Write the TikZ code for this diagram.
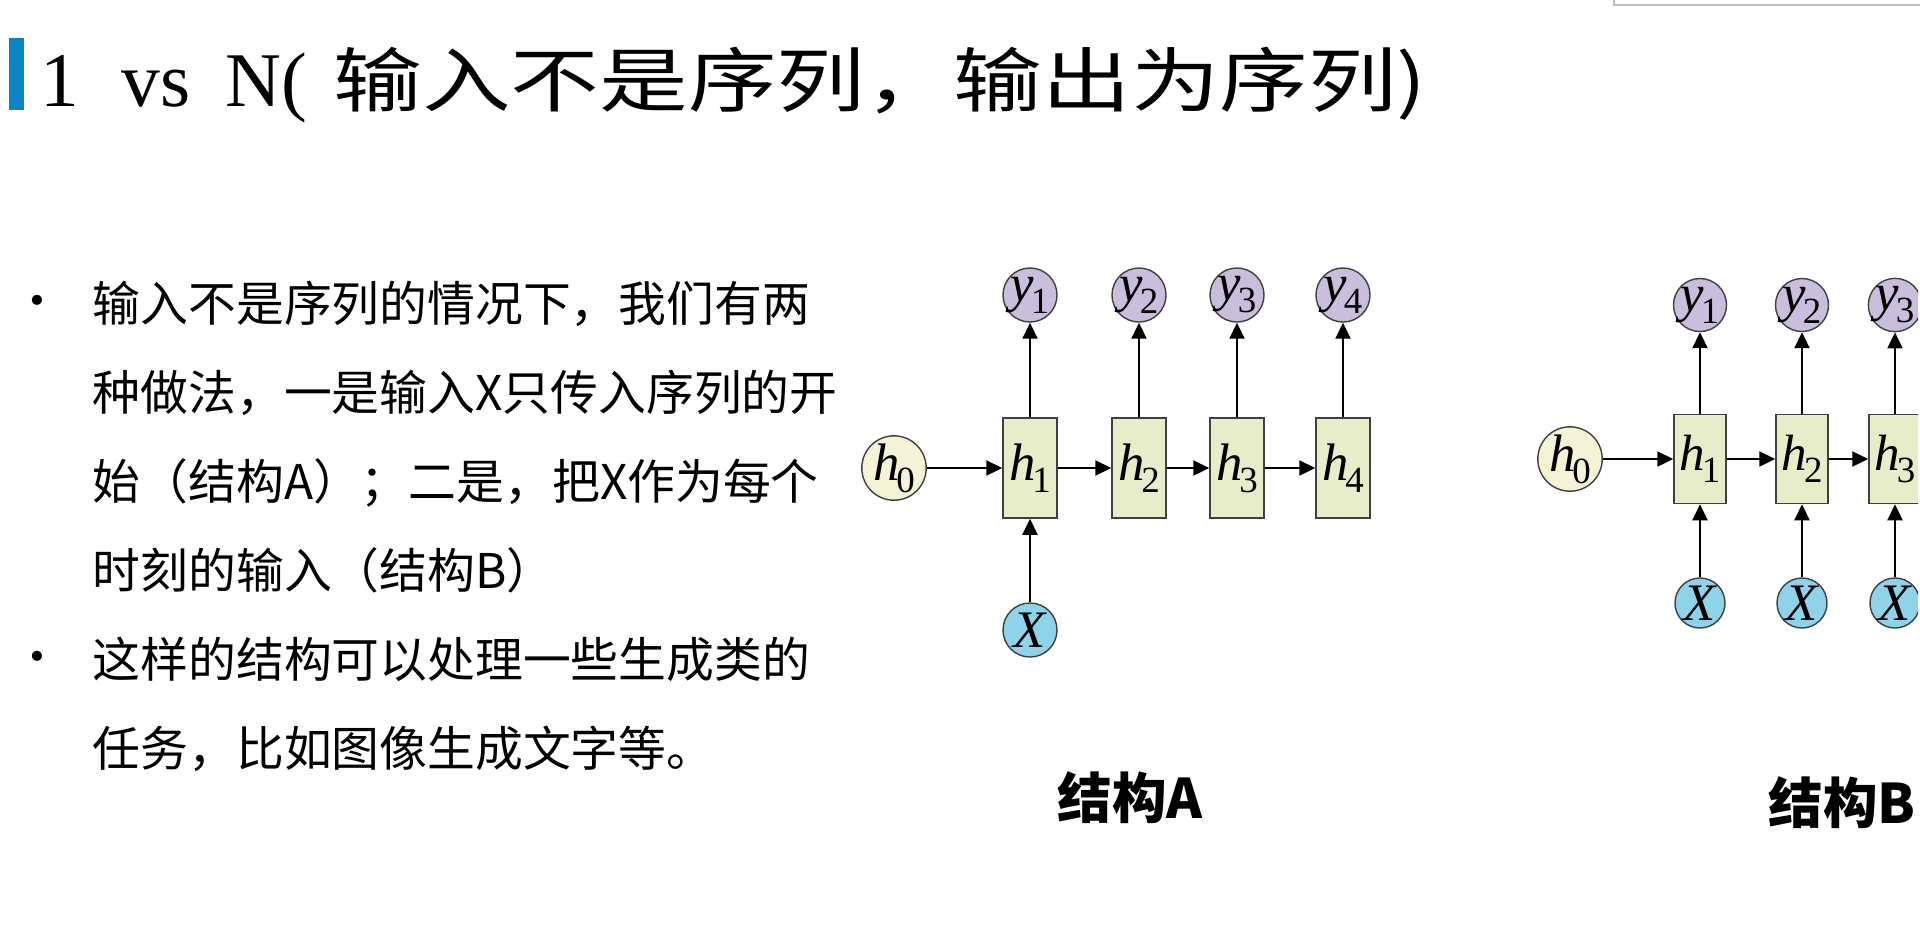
\documentclass[tikz,border=0pt]{standalone}
\usepackage{fontspec}
\setmainfont{Liberation Serif}
\newfontfamily\cjk{Noto Sans CJK SC}
\newfontfamily\cjktitle[FakeStretch=1.26]{Noto Sans CJK SC}
\newfontfamily\latintitle{Liberation Serif}
\usepackage{tikz}
\usetikzlibrary{arrows.meta, positioning}

\definecolor{barblue}{HTML}{0A84C4}
\definecolor{cellfill}{HTML}{E6EDC8}
\definecolor{outfill}{HTML}{C9BFDD}
\definecolor{infill}{HTML}{8FD3EB}
\definecolor{hzero}{HTML}{F3F3D5}
\newcommand{\rv}[2]{\textit{#1}\kern-0.06em\raisebox{-0.5ex}{\fontsize{10.5}{10.5}\selectfont #2}}

\begin{document}
\begin{tikzpicture}[x=0.01cm, y=-0.01cm,
    cell/.style={draw=black!75, fill=cellfill, minimum width=0.54cm, minimum height=1cm, inner sep=0, font=\fontsize{15}{15}\selectfont},
    cellb/.style={cell, minimum width=0.52cm, minimum height=0.89cm, font=\fontsize{14.5}{14.5}\selectfont},
    outc/.style={circle, draw=black!75, fill=outfill, minimum size=0.54cm, inner sep=0, font=\fontsize{15}{15}\selectfont},
    inc/.style={outc, fill=infill},
    hz/.style={outc, fill=hzero},
    link/.style={-{Triangle[length=0.16cm, width=0.15cm]}, line width=0.6pt},
    body/.style={font=\cjk\fontsize{13.6}{25.3}\selectfont, align=left, anchor=north west, inner sep=0},
    dot/.style={font=\cjk\fontsize{13.6}{13.6}\selectfont, inner sep=0},
    caption/.style={font=\cjk\bfseries\fontsize{15.5}{15.5}\selectfont, inner sep=0}]
    \useasboundingbox[fill=white] (0,0) rectangle (1920,938);

    % title
    \fill[barblue] (9,38) rectangle (24,110);
    \node[anchor=base west, inner sep=0] (title) at (40,106)
        {\fontsize{22}{22}\selectfont\latintitle 1\hspace{12pt}vs\hspace{10pt}N(\hspace{7.5pt}{\cjktitle\fontsize{20}{20}\selectfont 输入不是序列，输出为序列)}};
    \draw[black!25] (1614,-2) -- (1614,5) -- (1920,5);

    % bullets
    \node[dot] (b1) at (37,307) {•};
    \node[body] (t1) at (92,280) {输入不是序列的情况下，我们有两\\种做法，一是输入X只传入序列的开\\始（结构A）；二是，把X作为每个\\时刻的输入（结构B）};
    \node[dot] (b2) at (37,663) {•};
    \node[body] (t2) at (92,636) {这样的结构可以处理一些生成类的\\任务，比如图像生成文字等。};

    % structure A
    \node[hz] (a0) at (894,468) {\rv{h}{0}};
    \foreach \i/\x in {1/1030, 2/1139, 3/1237, 4/1343} {
        \node[cell] (ah\i) at (\x,468) {\rv{h}{\i}};
        \node[outc] (ay\i) at (\x,295) {\rv{y}{\i}};
        \draw[link] (ah\i) -- (ay\i);
    }
    \node[inc] (ax) at (1030,630) {\textit{X}};
    \draw[link] (a0) -- (ah1);
    \foreach \i/\j in {1/2, 2/3, 3/4}
        \draw[link] (ah\i) -- (ah\j);
    \draw[link] (ax) -- (ah1);
    \node[caption] (capA) at (1130,798) {结构A};

    % structure B
    \begin{scope}
        \clip (1500,250) rectangle (1918,700);
        \node[hz, minimum size=0.5cm] (b0) at (1570,459) {\rv{h}{0}};
        \foreach \i/\x in {1/1700, 2/1802, 3/1895} {
            \node[cellb] (bh\i) at (\x,459) {\rv{h}{\i}};
            \node[outc, minimum size=0.5cm] (by\i) at (\x,305) {\rv{y}{\i}};
            \node[inc, minimum size=0.5cm] (bx\i) at (\x,603) {\textit{X}};
            \draw[link] (bh\i) -- (by\i);
            \draw[link] (bx\i) -- (bh\i);
        }
        \draw[link] (b0) -- (bh1);
        \foreach \i/\j in {1/2, 2/3}
            \draw[link] (bh\i) -- (bh\j);
    \end{scope}
    \node[caption] (capB) at (1842,803) {结构B};
\end{tikzpicture}
\end{document}
